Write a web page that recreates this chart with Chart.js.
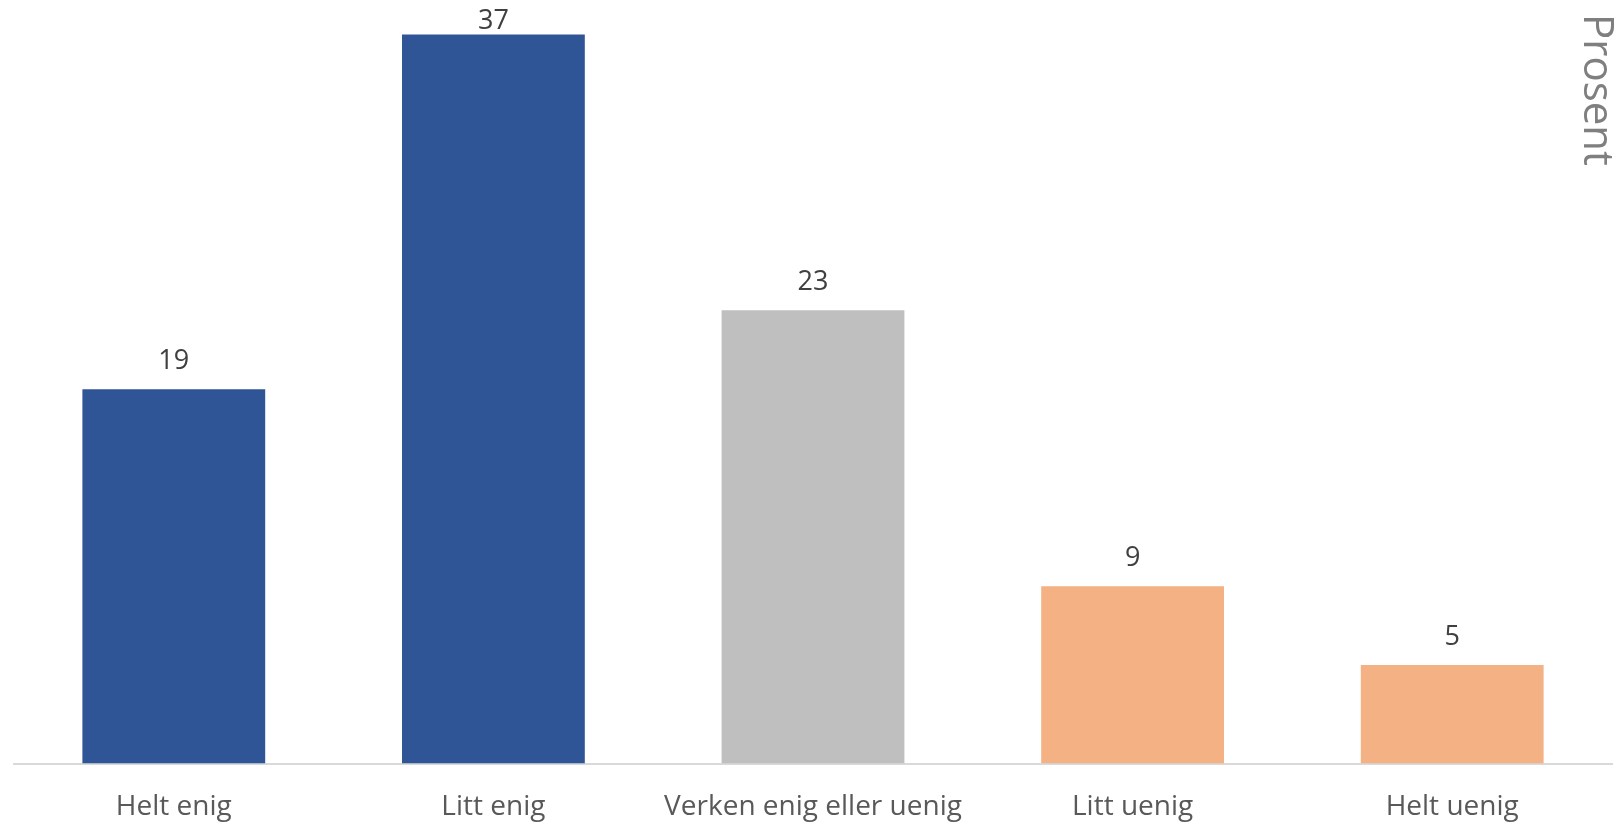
<!DOCTYPE html>
<html>
<head>
<meta charset="utf-8">
<script src="https://cdn.jsdelivr.net/npm/chart.js@4"></script>
<style>
  html, body { margin: 0; padding: 0; background: #fff; }
  #wrap { width: 1614px; height: 822px; position: relative; }
</style>
</head>
<body>
<div id="wrap"><canvas id="answerChart"></canvas></div>
<script>
var labels = ["Helt enig", "Litt enig", "Verken enig eller uenig", "Litt uenig", "Helt uenig"];
var values = [19, 37, 23, 9, 5];
var barColors = ['#2F5597', '#2F5597', '#BFBFBF', '#F4B183', '#F4B183'];
var axisTitle = 'Prosent';

// value labels over each bar, kept inside the canvas for the tallest bar
var valueLabels = {
    id: 'valueLabels',
    afterDatasetsDraw: function(chart) {
        var ctx = chart.ctx;
        var meta = chart.getDatasetMeta(0);
        ctx.save();
        ctx.font = '27px "Open Sans"';
        ctx.fillStyle = '#404040';
        ctx.textAlign = 'center';
        ctx.textBaseline = 'alphabetic';
        meta.data.forEach(function(bar, i) {
            var y = Math.max(bar.y - 20, 29);
            ctx.fillText(values[i], bar.x, y);
        });
        ctx.restore();
    }
};

// rotated title in the top right corner
var sideTitle = {
    id: 'sideTitle',
    afterDraw: function(chart) {
        var ctx = chart.ctx;
        ctx.save();
        ctx.translate(1584, 14);
        ctx.rotate(Math.PI / 2);
        ctx.font = '42px "Open Sans"';
        ctx.fillStyle = '#7F7F7F';
        ctx.textAlign = 'left';
        ctx.textBaseline = 'alphabetic';
        ctx.fillText(axisTitle, 0, 0);
        ctx.restore();
    }
};

var ctx = document.getElementById('answerChart').getContext('2d');
var answerChart = new Chart(ctx, {
    type: 'bar',
    data: {
        labels: labels,
        datasets: [{
            data: values,
            backgroundColor: barColors,
            categoryPercentage: 1,
            barPercentage: 0.572
        }]
    },
    options: {
        responsive: true,
        maintainAspectRatio: false,
        animation: false,
        layout: {
            padding: { top: 5, left: 14, right: 2, bottom: 0 }
        },
        scales: {
            x: {
                grid: { display: false, drawTicks: false },
                border: { display: true, color: '#D9D9D9', width: 2 },
                ticks: {
                    color: '#595959',
                    padding: 27,
                    font: { family: '"Open Sans"', size: 28 }
                },
                afterFit: function(scale) {
                    scale.height = 58.5;
                }
            },
            y: {
                display: false,
                min: 0,
                max: 38.5
            }
        },
        plugins: {
            legend: { display: false },
            tooltip: { enabled: false }
        }
    },
    plugins: [valueLabels, sideTitle]
});
</script>
</body>
</html>
